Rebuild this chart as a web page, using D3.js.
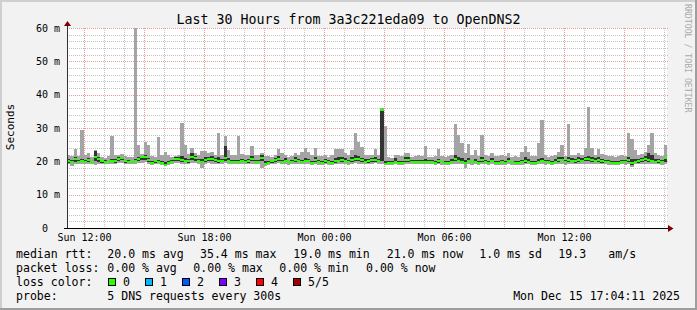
<!DOCTYPE html>
<html>
<head>
<meta charset="utf-8">
<script src="https://cdn.jsdelivr.net/npm/d3@7"></script>
<style>
  body { margin: 0; background: #f2f2f2; }
  svg text { font-family: "DejaVu Sans Mono", monospace; white-space: pre; }
</style>
</head>
<body>
<div class="chart"></div>
<script>
// 10 minute bins, Sun 11:09 -> Mon 17:09 (ms)
var med = [
  20.0, 19.8, 20.6, 19.9, 20.1, 19.9, 20.3, 19.8, 21.2, 20.6,
  20.0, 19.9, 19.7, 20.1, 20.0, 20.7, 20.9, 20.0, 19.9, 19.8,
  20.1, 20.8, 21.2, 21.4, 20.5, 19.6, 20.0, 19.9, 19.5, 19.0,
  19.5, 19.8, 20.6, 20.8, 20.4, 20.2, 20.0, 21.3, 20.9, 20.1,
  19.9, 20.5, 20.7, 20.6, 20.3, 20.0, 20.2, 21.0, 20.1, 19.8,
  19.8, 19.9, 20.1, 19.7, 20.0, 20.6, 19.9, 19.8, 20.9, 19.3,
  19.6, 20.0, 20.4, 20.7, 19.9, 20.2, 19.7, 19.8, 20.5, 20.1,
  19.8, 20.2, 20.0, 19.6, 20.4, 19.7, 19.5, 20.0, 19.7, 19.6,
  20.0, 20.2, 20.3, 20.1, 19.8, 20.4, 20.8, 20.6, 20.3, 19.9,
  20.0, 20.3, 20.5, 20.1, 35.4, 19.3, 19.5, 19.6, 19.9, 19.5,
  19.6, 20.3, 20.4, 19.7, 19.8, 19.9, 19.9, 19.9, 19.9, 19.8,
  19.6, 20.0, 19.7, 19.5, 19.6, 19.9, 20.6, 20.2, 19.8, 19.4,
  20.2, 19.7, 19.9, 19.5, 20.3, 19.8, 19.6, 20.1, 19.6, 19.5,
  19.7, 19.6, 20.1, 19.7, 19.6, 19.5, 19.7, 20.0, 19.8, 19.5,
  19.6, 19.9, 20.2, 19.7, 19.8, 19.6, 19.9, 20.3, 20.5, 19.7,
  20.4, 20.1, 20.0, 20.3, 20.1, 20.6, 20.8, 20.5, 20.2, 20.4,
  20.0, 19.8, 19.7, 19.6, 19.5, 19.6, 19.8, 19.7, 20.3, 19.4,
  19.9, 20.0, 20.3, 20.6, 20.4, 20.2, 19.9, 20.0, 19.8, 20.9
];
var lo = [
  19.2, 18.6, 19.3, 19.3, 19.3, 19.2, 19.3, 19.2, 19.0, 19.3,
  19.3, 19.2, 19.1, 19.3, 19.2, 19.4, 19.5, 19.3, 19.2, 19.1,
  19.3, 19.4, 19.6, 19.7, 19.3, 19.0, 19.2, 19.2, 18.9, 18.8,
  18.9, 19.2, 19.4, 19.5, 19.3, 19.3, 19.2, 19.5, 19.4, 19.1,
  18.0, 19.3, 19.4, 19.3, 19.2, 19.2, 19.1, 19.4, 19.2, 19.1,
  19.2, 19.2, 19.3, 19.1, 19.2, 19.3, 19.1, 19.2, 18.0, 18.6,
  19.0, 19.2, 19.3, 19.4, 19.1, 19.2, 19.0, 19.1, 19.3, 19.2,
  19.1, 19.3, 19.2, 19.0, 19.3, 19.0, 18.9, 19.1, 19.0, 18.9,
  19.2, 19.3, 19.3, 19.2, 19.0, 19.3, 19.4, 19.3, 19.2, 19.1,
  19.2, 19.3, 19.4, 19.3, 19.3, 18.8, 18.9, 19.0, 19.1, 18.9,
  19.0, 19.2, 19.3, 19.1, 19.1, 19.2, 19.2, 19.1, 19.2, 19.1,
  19.0, 19.1, 19.0, 18.9, 19.0, 19.1, 19.3, 19.2, 19.1, 18.0,
  19.2, 19.0, 19.1, 18.9, 19.2, 19.1, 19.0, 19.2, 19.0, 18.9,
  19.0, 19.0, 19.2, 19.0, 19.0, 18.9, 19.0, 19.1, 19.1, 18.9,
  19.0, 19.1, 19.2, 19.0, 19.1, 19.0, 19.1, 19.2, 19.3, 19.0,
  19.2, 19.2, 19.1, 19.2, 19.2, 19.3, 19.3, 19.3, 19.2, 19.3,
  19.1, 19.1, 19.0, 19.0, 18.9, 19.0, 19.1, 19.0, 19.2, 18.2,
  19.1, 19.1, 19.2, 19.3, 19.2, 19.2, 19.1, 19.1, 19.0, 19.2
];
var hi = [
  21.8, 21.6, 23.7, 21.5, 29.4, 21.9, 22.6, 21.4, 23.5, 22.4,
  21.2, 21.0, 21.5, 27.5, 21.8, 21.9, 22.1, 21.5, 21.4, 21.2,
  61.0, 25.0, 22.3, 25.9, 24.9, 21.6, 21.4, 27.4, 21.8, 22.9,
  22.0, 21.4, 21.6, 22.0, 31.5, 25.0, 22.2, 24.0, 22.5, 22.0,
  23.0, 23.0, 22.5, 22.8, 21.8, 28.4, 22.0, 27.6, 23.4, 21.8,
  22.0, 27.6, 22.2, 22.0, 21.9, 24.6, 22.0, 21.8, 22.6, 21.5,
  21.6, 21.4, 21.8, 23.6, 22.6, 22.0, 21.4, 21.6, 22.4, 22.0,
  22.9, 23.9, 22.8, 21.8, 23.9, 21.6, 21.5, 22.0, 21.4, 21.8,
  23.8, 23.6, 23.8, 22.6, 22.0, 23.4, 28.6, 25.9, 24.4, 22.0,
  21.9, 21.8, 23.6, 22.0, 36.0, 30.6, 21.2, 21.0, 21.9, 21.8,
  21.5, 22.4, 22.5, 21.4, 21.6, 22.0, 21.5, 24.7, 21.4, 21.3,
  21.5, 23.6, 21.7, 21.4, 21.6, 22.0, 31.2, 27.8, 25.5, 22.6,
  25.2, 21.8, 23.3, 21.6, 27.8, 22.0, 21.6, 22.5, 21.5, 21.6,
  21.8, 21.5, 22.5, 21.4, 21.5, 21.3, 22.9, 24.6, 22.8, 21.5,
  21.6, 25.6, 32.4, 22.0, 21.4, 21.6, 21.8, 22.9, 24.9, 21.7,
  31.2, 22.0, 21.8, 22.4, 22.0, 23.9, 36.2, 23.9, 22.0, 23.6,
  22.1, 21.8, 21.6, 21.5, 21.4, 21.5, 22.0, 21.6, 28.6, 26.6,
  23.4, 21.8, 22.2, 22.9, 24.9, 28.6, 22.5, 21.8, 21.6, 25.0
];
var p2 = [
  19.6, 19.4, 19.9, 19.6, 19.7, 19.6, 19.8, 19.5, 20.2, 19.9,
  19.6, 19.6, 19.4, 19.7, 19.6, 20.1, 20.3, 19.6, 19.6, 19.5,
  19.7, 20.2, 20.4, 20.5, 19.9, 19.3, 19.6, 19.5, 19.2, 18.9,
  19.2, 19.5, 20.0, 20.2, 19.9, 19.7, 19.6, 20.3, 20.1, 19.7,
  19.5, 19.9, 20.1, 20.0, 19.8, 19.6, 19.7, 20.2, 19.7, 19.5,
  19.5, 19.6, 19.7, 19.4, 19.6, 20.0, 19.6, 19.5, 20.1, 19.1,
  19.3, 19.6, 19.9, 20.1, 19.6, 19.7, 19.4, 19.5, 19.9, 19.7,
  19.5, 19.8, 19.7, 19.3, 19.9, 19.4, 19.2, 19.6, 19.4, 19.3,
  19.6, 19.8, 19.9, 19.7, 19.5, 19.9, 20.2, 20.0, 19.8, 19.5,
  19.6, 19.8, 19.9, 19.7, 20.0, 19.0, 19.2, 19.3, 19.5, 19.2,
  19.3, 19.8, 19.9, 19.4, 19.5, 19.6, 19.6, 19.6, 19.6, 19.5,
  19.3, 19.6, 19.4, 19.2, 19.3, 19.6, 20.0, 19.8, 19.5, 19.1,
  19.7, 19.4, 19.6, 19.2, 19.8, 19.5, 19.3, 19.7, 19.3, 19.2,
  19.4, 19.3, 19.8, 19.4, 19.3, 19.2, 19.4, 19.6, 19.5, 19.2,
  19.3, 19.6, 19.8, 19.4, 19.5, 19.3, 19.6, 19.9, 20.0, 19.4,
  19.9, 19.7, 19.6, 19.8, 19.7, 20.0, 20.2, 19.9, 19.7, 19.9,
  19.6, 19.5, 19.4, 19.3, 19.2, 19.3, 19.5, 19.4, 19.8, 19.0,
  19.6, 19.6, 19.8, 20.1, 19.9, 19.8, 19.5, 19.6, 19.4, 19.7
];
var p4 = [
  20.6, 20.3, 21.2, 20.4, 20.8, 20.5, 21.0, 20.2, 23.0, 21.4,
  20.4, 20.3, 20.2, 20.8, 20.6, 21.2, 21.4, 20.5, 20.3, 20.2,
  20.8, 21.4, 21.6, 22.0, 21.0, 20.1, 20.4, 20.5, 20.0, 19.9,
  20.0, 20.3, 21.2, 21.4, 21.5, 21.0, 20.7, 22.6, 21.6, 20.8,
  20.6, 21.2, 21.4, 21.5, 21.0, 21.2, 20.8, 24.7, 21.0, 20.4,
  20.3, 20.5, 20.7, 20.3, 20.6, 21.6, 20.5, 20.3, 21.8, 20.0,
  20.2, 20.5, 21.0, 21.5, 20.4, 20.9, 20.2, 20.4, 21.2, 20.8,
  20.4, 21.0, 20.8, 20.2, 21.2, 20.3, 20.1, 20.6, 20.3, 20.2,
  21.0, 21.2, 21.3, 21.0, 20.4, 21.2, 21.8, 21.6, 21.1, 20.6,
  20.7, 21.0, 21.3, 20.8, 35.6, 20.0, 20.1, 20.2, 20.9, 20.1,
  20.2, 21.2, 21.4, 20.3, 20.4, 20.5, 20.4, 20.6, 20.4, 20.3,
  20.1, 20.8, 20.2, 20.0, 20.2, 20.6, 21.8, 21.4, 21.0, 20.4,
  21.0, 20.2, 20.6, 20.0, 21.2, 20.4, 20.1, 20.9, 20.2, 20.0,
  20.3, 20.2, 21.0, 20.2, 20.1, 20.0, 20.4, 21.2, 20.6, 20.0,
  20.2, 20.7, 21.1, 20.3, 20.5, 20.2, 20.6, 21.2, 21.4, 20.4,
  21.2, 21.0, 20.8, 21.2, 21.0, 21.4, 21.6, 21.3, 21.0, 21.2,
  20.6, 20.5, 20.3, 20.2, 20.1, 20.2, 20.5, 20.3, 21.4, 20.8,
  20.7, 20.8, 21.0, 21.6, 22.5, 22.0, 20.6, 20.8, 20.4, 21.0
];

var yTicks = [0, 10, 20, 30, 40, 50, 60];
var yLabels = ["0  ", "10 m", "20 m", "30 m", "40 m", "50 m", "60 m"];
var xTickHours = [[14, 12], [14, 18], [15, 0], [15, 6], [15, 12]];

var rttStats = ["20.0 ms avg", "35.4 ms max", "19.0 ms min", "21.0 ms now", "1.0 ms sd", "19.3", "am/s"];
var lossStats = ["0.00 % avg", "0.00 % max", "0.00 % min", "0.00 % now"];
var lossLabels = ["0", "1", "2", "3", "4", "5/5"];
var lossColors = ["#26ff00", "#00b8ff", "#0059ff", "#7e00ff", "#ff0000", "#a10000"];

var W = 697, H = 310;
var start = new Date(2025, 11, 14, 11, 9);
var end = new Date(2025, 11, 15, 17, 9);
var step = 10 * 60 * 1000;

var svg = d3.select(".chart").append("svg")
    .attr("width", W)
    .attr("height", H);

// 3d frame
svg.append("rect").attr("width", W).attr("height", H).attr("fill", "#f2f2f2");
svg.append("path").attr("d", "M0,0H" + W + "V2H2V" + H + "H0Z").attr("fill", "#cfcfcf");
svg.append("path").attr("d", "M" + W + ",0V" + H + "H0V" + (H - 2) + "H" + (W - 2) + "V0Z").attr("fill", "#9e9e9e");

var x = d3.scaleTime().domain([start, end]).range([67, 667]);
var y = d3.scaleLinear().domain([0, 60]).range([228, 28]).clamp(true);

// canvas
svg.append("rect").attr("x", 67).attr("y", 28).attr("width", 600).attr("height", 200).attr("fill", "#fff");

// grid
var grid = svg.append("g").attr("stroke-width", 1).attr("stroke-dasharray", "1,1");
var minorY = d3.range(2, 60, 2).filter(d => d % 10 != 0);
grid.selectAll(".hy").data(minorY).enter().append("line")
    .attr("x1", 67).attr("x2", 668)
    .attr("y1", d => Math.round(y(d)) + 0.5).attr("y2", d => Math.round(y(d)) + 0.5)
    .attr("stroke", "#c4c4c4");
var hours = d3.timeHour.range(start, end);
grid.selectAll(".hx").data(hours.filter(d => d.getHours() % 3 != 0)).enter().append("line")
    .attr("y1", 28).attr("y2", 228)
    .attr("x1", d => Math.round(x(d)) + 0.5).attr("x2", d => Math.round(x(d)) + 0.5)
    .attr("stroke", "#c4c4c4");
grid.selectAll(".my").data(yTicks.slice(1)).enter().append("line")
    .attr("x1", 67).attr("x2", 668)
    .attr("y1", d => Math.round(y(d)) + 0.5).attr("y2", d => Math.round(y(d)) + 0.5)
    .attr("stroke", "#eb9a9a");
grid.selectAll(".mx").data(hours.filter(d => d.getHours() % 3 == 0)).enter().append("line")
    .attr("y1", 28).attr("y2", 228)
    .attr("x1", d => Math.round(x(d)) + 0.5).attr("x2", d => Math.round(x(d)) + 0.5)
    .attr("stroke", "#eb9a9a");

// smoke
var bins = med.map((m, i) => ({
  t0: new Date(start.getTime() + i * step),
  t1: new Date(start.getTime() + (i + 1) * step),
  med: m, lo: lo[i], hi: hi[i], p2: p2[i], p4: p4[i]
}));
var plot = svg.append("g").attr("shape-rendering", "crispEdges");
plot.selectAll(".outer").data(bins).enter().append("rect")
    .attr("x", d => x(d.t0)).attr("width", d => x(d.t1) - x(d.t0))
    .attr("y", d => y(d.hi)).attr("height", d => y(d.lo) - y(d.hi))
    .attr("fill", "#a4a4a4");
plot.selectAll(".inner").data(bins).enter().append("rect")
    .attr("x", d => x(d.t0)).attr("width", d => x(d.t1) - x(d.t0))
    .attr("y", d => y(d.p4)).attr("height", d => y(d.p2) - y(d.p4))
    .attr("fill", "#333");
plot.selectAll(".med").data(bins).enter().append("rect")
    .attr("x", d => x(d.t0)).attr("width", d => x(d.t1) - x(d.t0))
    .attr("y", d => y(d.med) - 1).attr("height", 2)
    .attr("fill", lossColors[0]);

// axes
var yAxis = d3.axisLeft(y).tickValues(yTicks).tickFormat((d, i) => yLabels[i]).tickSize(0).tickPadding(7);
var gy = svg.append("g").attr("transform", "translate(67,0)").call(yAxis);
var xAxis = d3.axisBottom(x)
    .tickValues(xTickHours.map(h => new Date(2025, 11, h[0], h[1], 0)))
    .tickFormat(d3.timeFormat("%a %H:%M")).tickSize(0).tickPadding(6);
var gx = svg.append("g").attr("transform", "translate(0,228)").call(xAxis);
[gx, gy].forEach(g => {
  g.select(".domain").remove();
  g.selectAll("text").attr("font-size", "10px").attr("fill", "#000")
      .style("font-family", "'DejaVu Sans Mono', monospace");
});

svg.append("line").attr("x1", 67.5).attr("x2", 67.5).attr("y1", 25).attr("y2", 229).attr("stroke", "#333");
svg.append("line").attr("x1", 64).attr("x2", 669).attr("y1", 228.5).attr("y2", 228.5).attr("stroke", "#000");
svg.append("path").attr("d", "M64,26L71,26L67.5,21Z").attr("fill", "#800000");
svg.append("path").attr("d", "M668,225L668,232L673.5,228.5Z").attr("fill", "#800000");

// titles
svg.append("text").attr("x", 348.5).attr("y", 23.5).attr("text-anchor", "middle")
    .attr("font-size", "13.3px").text("Last 30 Hours from 3a3c221eda09 to OpenDNS2");
svg.append("text").attr("transform", "translate(14,127) rotate(-90)").attr("text-anchor", "middle")
    .attr("font-size", "11px").text("Seconds");
svg.append("text").attr("transform", "translate(685,4) rotate(90)")
    .attr("font-size", "8.2px").attr("fill", "#aaa").text("RRDTOOL / TOBI OETIKER");

// legend
var lg = svg.append("g").attr("font-size", "11.55px").attr("fill", "#000");
function put(t, px, py) { return lg.append("text").attr("x", px).attr("y", py).text(t); }
put("median rtt:", 16, 258);
[107.3, 200, 293.3, 386.7, 479.3, 558.3, 608.3].forEach((px, i) => put(rttStats[i], px, 258));
put("packet loss:", 16, 272);
[107.3, 193.3, 279.3, 366].forEach((px, i) => put(lossStats[i], px, 272));
put("loss color:", 16, 286);
lossLabels.forEach((l, i) => {
  var bx = 108 + i * 37;
  lg.append("rect").attr("x", bx + 0.5).attr("y", 278.5).attr("width", 7).attr("height", 7)
      .attr("fill", lossColors[i]).attr("stroke", "#000");
  put(l, bx + 15, 286);
});
put("probe:", 16, 300);
put("5 DNS requests every 300s", 107.3, 300);
put("Mon Dec 15 17:04:11 2025", 680, 300).attr("text-anchor", "end");
</script>
</body>
</html>
